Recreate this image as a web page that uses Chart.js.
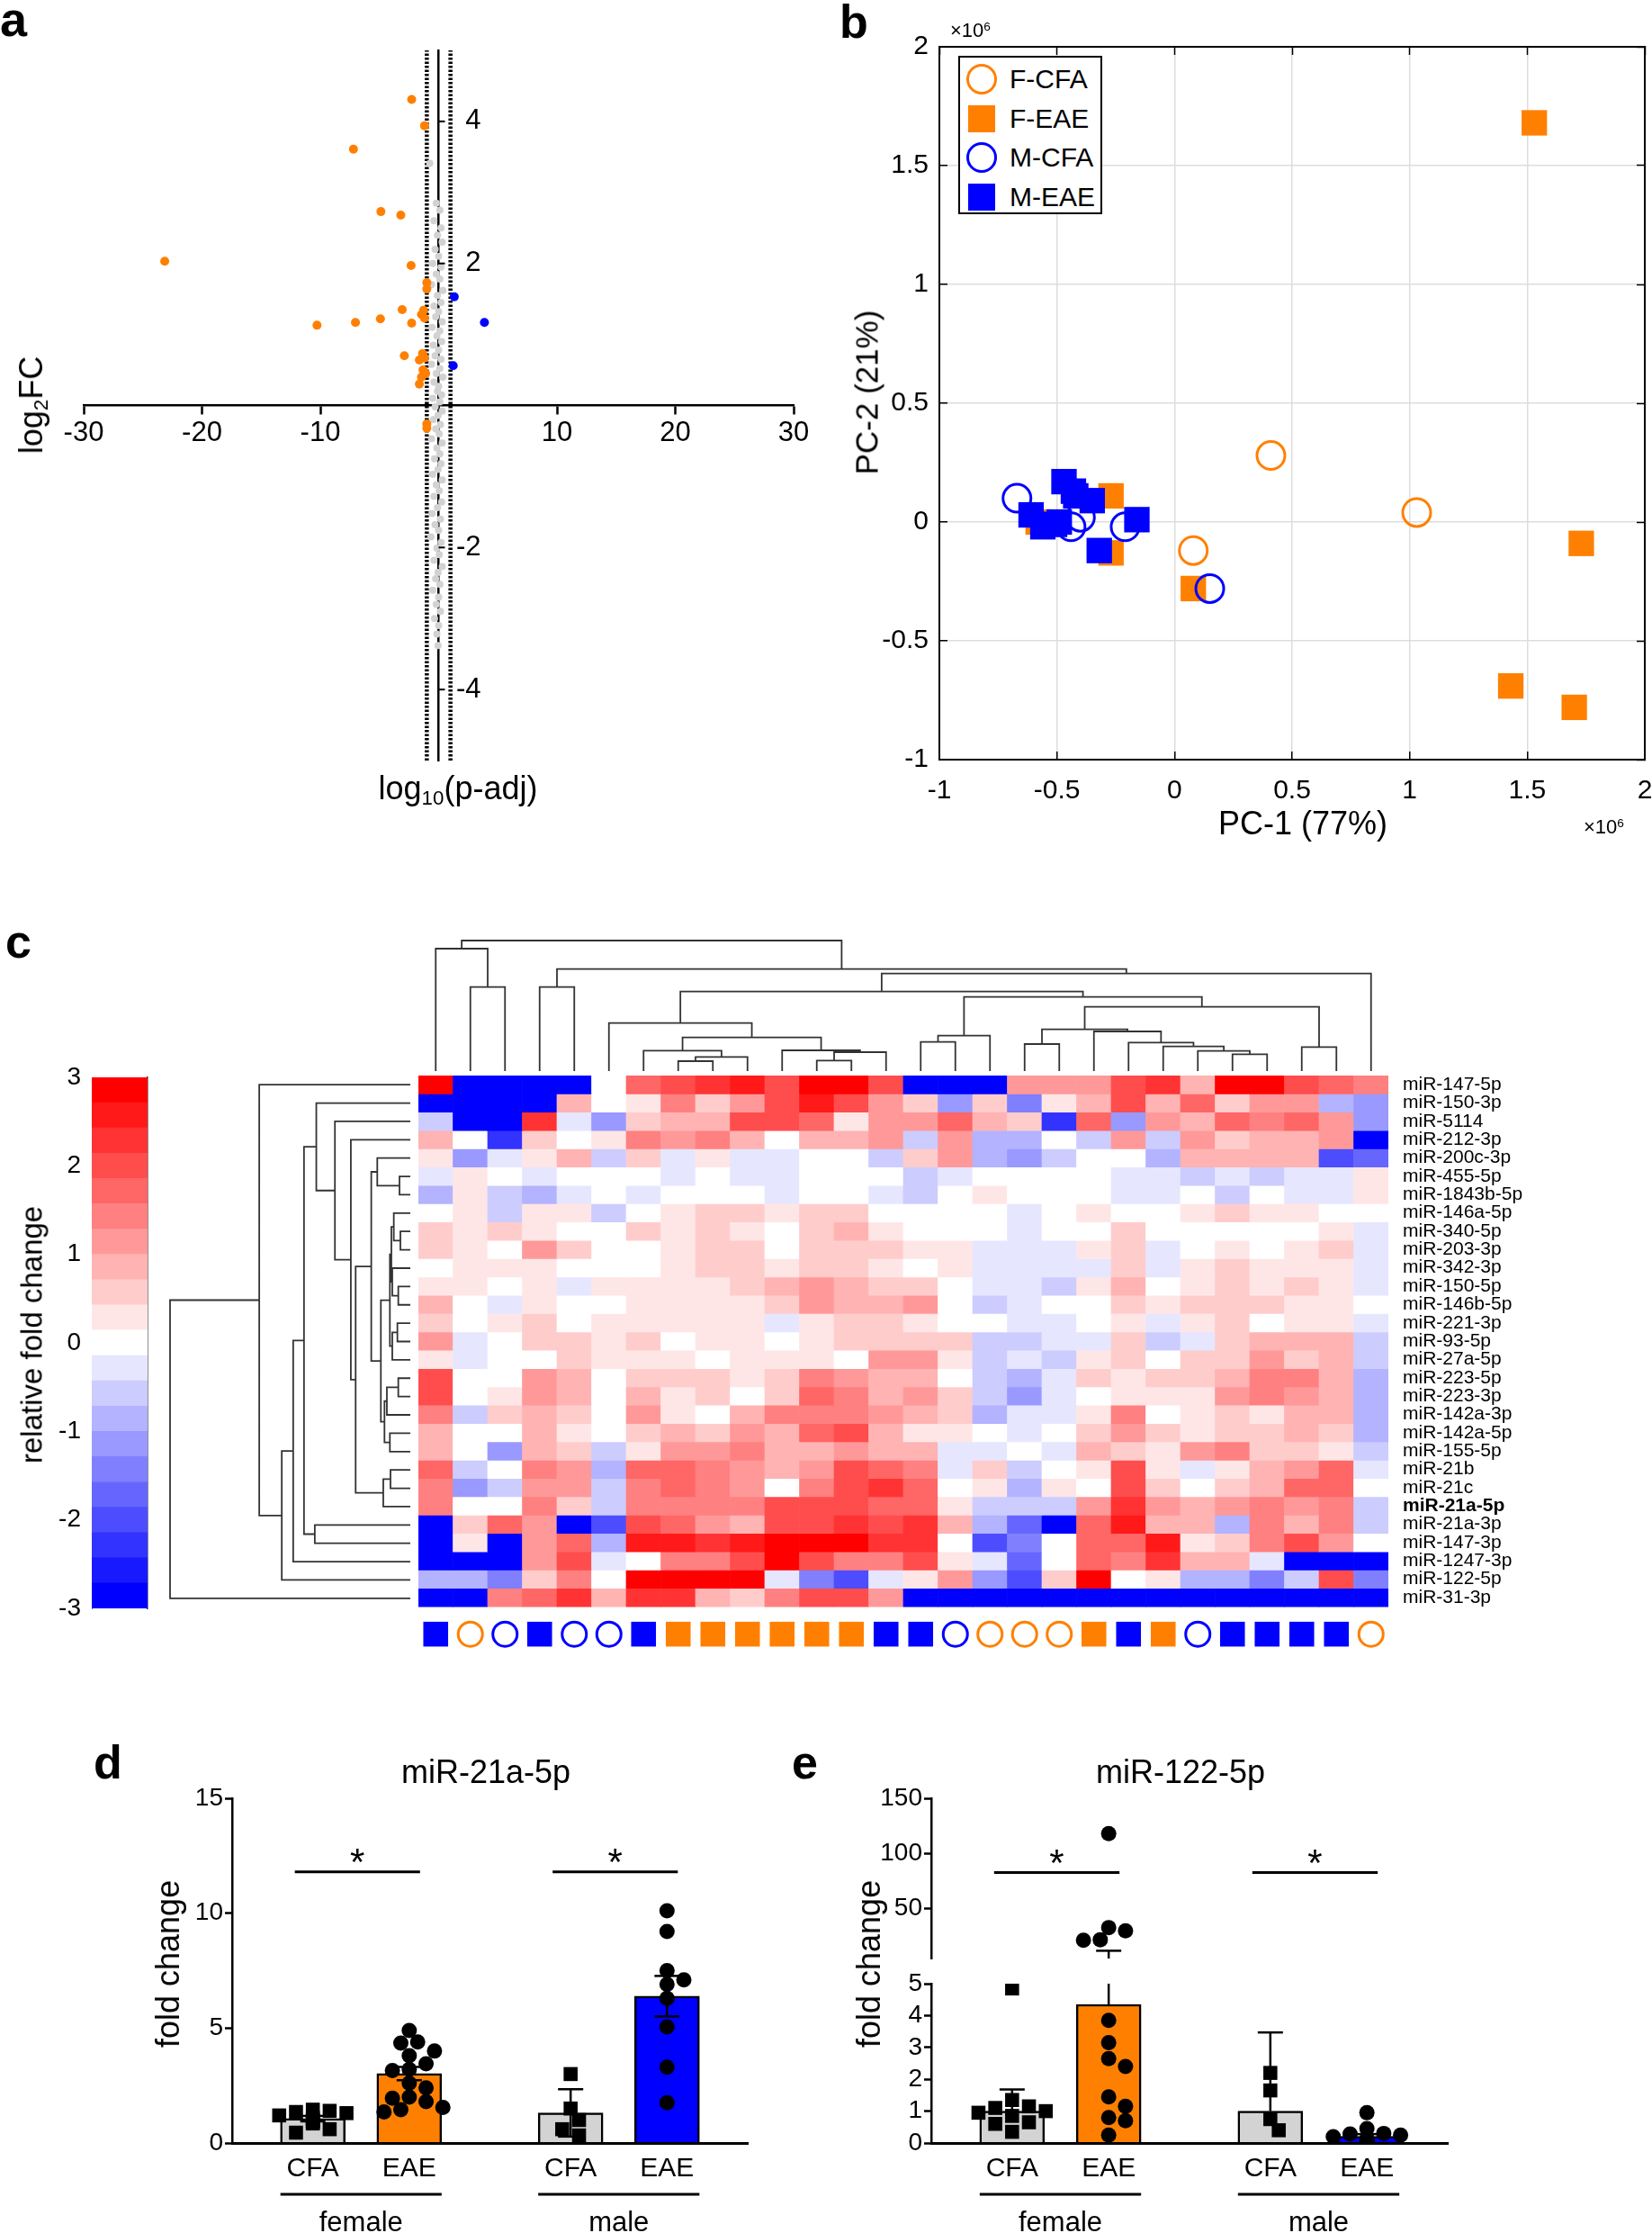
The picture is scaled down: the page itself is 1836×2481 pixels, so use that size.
<!DOCTYPE html>
<html>
<head>
<meta charset="utf-8">
<title>miRNA figure</title>
<script src="https://cdn.jsdelivr.net/npm/chart.js"></script>
<style>
  html, body { margin: 0; padding: 0; background: #fff; }
  body { position: relative; width: 1836px; height: 2481px; overflow: hidden;
         font-family: "Liberation Sans", Arial, Helvetica, sans-serif; color: #000; }
  canvas { position: absolute; }
  .t { position: absolute; white-space: nowrap; line-height: 1; z-index: 2; }
  .b { font-weight: bold; }
  .c { transform: translateX(-50%); }
  .r { transform: translate(-50%, -50%) rotate(-90deg); }
  sub { font-size: 0.62em; vertical-align: -0.28em; line-height: 0; }
  sup { font-size: 0.62em; vertical-align: 0.5em; line-height: 0; }
  #legB { position: absolute; left: 1065px; top: 62px; width: 156px; height: 172px;
          border: 2px solid #000; background: #fff; z-index: 3; }
  #legB div { position: absolute; }
</style>
</head>
<body>

<!-- panel letters -->
<div class="t b" style="left:0;top:-6px;font-size:54px">a</div>
<div class="t b" style="left:933px;top:-2px;font-size:52px">b</div>
<div class="t b" style="left:6px;top:1020px;font-size:52px">c</div>
<div class="t b" style="left:104px;top:1932px;font-size:52px">d</div>
<div class="t b" style="left:880px;top:1932px;font-size:52px">e</div>

<!-- a -->
<div class="t r" style="left:35px;top:450px;font-size:36px">log<sub>2</sub>FC</div>
<div class="t c" style="left:509px;top:858px;font-size:36px">log<sub>10</sub>(p-adj)</div>

<!-- b -->
<div class="t" style="left:1056px;top:23px;font-size:22px">&times;10<sup>6</sup></div>
<div class="t" style="left:1760px;top:908px;font-size:22px">&times;10<sup>6</sup></div>
<div class="t c" style="left:1448px;top:897px;font-size:36px">PC-1 (77%)</div>
<div class="t r" style="left:963px;top:436px;font-size:35px">PC-2 (21%)</div>
<div id="legB"></div>

<!-- c -->
<div class="t r" style="left:35px;top:1483px;font-size:33px">relative fold change</div>

<!-- d / e -->
<div class="t c" style="left:540px;top:1951px;font-size:36px">miR-21a-5p</div>
<div class="t c" style="left:1312px;top:1951px;font-size:36px">miR-122-5p</div>
<div class="t r" style="left:187px;top:2182px;font-size:36px">fold change</div>
<div class="t r" style="left:966px;top:2182px;font-size:36px">fold change</div>

<script>
// ---------------- a: volcano plot ----------------
const volcanoOrange = [[-2.28,4.31],[-1.19,3.94],[-7.2,3.61],[-4.88,2.73],[-3.2,2.68],[-23.15,2.03],
  [-2.33,1.97],[-1.0,1.73],[-1.0,1.64],[-3.08,1.35],[-1.27,1.34],[-1.45,1.28],[-1.19,1.23],[-4.92,1.22],
  [-7.03,1.17],[-10.28,1.13],[-2.28,1.16],[-2.9,0.70],[-1.36,0.73],[-1.63,0.64],[-1.19,0.67],[-1.32,0.50],
  [-1.1,0.45],[-1.45,0.40],[-1.63,0.30],[-1.0,-0.26],[-1.0,-0.32]];
const volcanoBlue = [[1.32,1.53],[3.87,1.17],[1.23,0.56]];
const volcanoGray = [[-0.75,3.41],[-0.2,2.85],[0.1,2.75],[-0.4,2.6],[0.2,2.5],[-0.1,2.4],[0.3,2.3],[-0.3,2.2],
  [0.0,2.1],[-0.5,2.0],[0.2,1.95],[-0.2,1.85],[0.1,1.78],[-0.6,1.7],[0.35,1.62],[-0.1,1.55],[0.2,1.45],
  [-0.4,1.4],[0.0,1.32],[-0.25,1.25],[0.3,1.18],[-0.55,1.1],[0.1,1.05],[-0.15,0.98],[0.25,0.9],[-0.45,0.85],
  [0.0,0.78],[-0.3,0.7],[0.2,0.65],[-0.6,0.58],[0.1,0.52],[-0.2,0.45],[0.35,0.4],[-0.4,0.33],[0.0,0.27],
  [-0.1,0.2],[0.25,0.15],[-0.5,0.1],[0.1,0.05],[-0.3,-0.02],[0.3,-0.08],[-0.05,-0.14],[-0.45,-0.2],
  [0.15,-0.27],[-0.25,-0.33],[0.05,-0.4],[-0.6,-0.47],[0.3,-0.53],[-0.15,-0.6],[0.1,-0.68],[-0.35,-0.75],
  [0.2,-0.82],[-0.05,-0.9],[-0.5,-0.97],[0.3,-1.05],[-0.2,-1.12],[0.05,-1.2],[-0.4,-1.28],[0.25,-1.36],
  [-0.1,-1.44],[-0.55,-1.52],[0.15,-1.6],[-0.3,-1.68],[0.0,-1.76],[-0.65,-1.85],[0.2,-1.93],[-0.15,-2.01],
  [0.05,-2.1],[-0.4,-2.18],[0.3,-2.27],[-0.05,-2.35],[-0.25,-2.44],[0.1,-2.52],[-0.5,-2.6],[0.0,-2.7],
  [-0.2,-2.8],[0.15,-2.9],[-0.35,-3.0],[0.0,-3.1],[-0.15,-3.22],[-0.05,-3.38]];
const padjCut = 1;
const volcanoYTicks = [-4, -2, 2, 4];

// ---------------- b: PCA (x10^6) ----------------
const pcaFCFA = [[0.41,0.28],[1.03,0.04],[0.08,-0.12]];
const pcaFEAE = [[1.53,1.68],[1.73,-0.09],[1.43,-0.69],[1.70,-0.78],[0.08,-0.28],[-0.27,0.11],[-0.27,-0.13],[-0.58,0.0]];
const pcaMCFA = [[-0.67,0.10],[-0.21,-0.02],[0.15,-0.28],[-0.44,-0.02],[-0.40,0.02]];
const pcaMEAE = [[-0.47,0.17],[-0.43,0.13],[-0.35,0.09],[-0.61,0.03],[-0.16,0.01],[-0.49,0.0],
  [-0.56,-0.02],[-0.32,-0.12],[-0.42,0.11],[-0.51,-0.01]];

// ---------------- c: heatmap ----------------
const mirNames = ['miR-147-5p','miR-150-3p','miR-5114','miR-212-3p','miR-200c-3p','miR-455-5p','miR-1843b-5p',
  'miR-146a-5p','miR-340-5p','miR-203-3p','miR-342-3p','miR-150-5p','miR-146b-5p','miR-221-3p','miR-93-5p',
  'miR-27a-5p','miR-223-5p','miR-223-3p','miR-142a-3p','miR-142a-5p','miR-155-5p','miR-21b','miR-21c',
  'miR-21a-5p','miR-21a-3p','miR-147-3p','miR-1247-3p','miR-122-5p','miR-31-3p'];
const highlightMir = 'miR-21a-5p';
const sampleGroups = ['M-EAE','F-CFA','M-CFA','M-EAE','M-CFA','M-CFA','M-EAE','F-EAE','F-EAE','F-EAE',
  'F-EAE','F-EAE','F-EAE','M-EAE','M-EAE','M-CFA','F-CFA','F-CFA','F-CFA','F-EAE','M-EAE','F-EAE','M-CFA',
  'M-EAE','M-EAE','M-EAE','M-EAE','F-CFA'];
const heatValues = [
  [3,-3,-3,-3,-3,0,1.8,2.1,2.4,2.7,2.1,3,3,2.1,-3,-3,-3,1.2,1.2,1.2,2.1,2.4,0.9,3,3,2.1,1.8,1.5],
  [-3,-3,-3,-3,0.9,0,0.3,1.5,0.6,1.2,2.1,2.7,2.1,1.2,0.6,-1.2,0.6,-1.5,0.3,0.9,2.1,0.9,1.8,0.6,1.2,1.2,-0.9,-1.2],
  [-0.6,-3,-3,2.4,-0.3,-1.2,0.6,0.9,0.9,2.1,2.1,1.8,0.3,1.2,1.2,1.8,0.9,0.6,-2.4,1.8,-1.2,1.2,0.9,1.8,1.5,1.8,1.2,-1.2],
  [0.9,0,-2.4,0.6,0,0.3,1.5,1.2,1.5,0.9,0,0.9,0.9,1.2,-0.6,1.2,-0.9,-0.9,0,-0.6,1.2,-0.6,1.2,0.6,0.9,0.9,1.2,-3],
  [0.3,-1.2,-0.3,0.3,0.9,-0.6,0.6,-0.3,0.3,-0.3,-0.3,0,0,-0.6,0.6,1.2,-0.9,-1.2,-0.6,0,0,-0.9,0.9,0.9,0.9,0.9,-2.1,-1.8],
  [-0.3,0.3,0,-0.3,0,0,0,-0.3,0,-0.3,-0.3,0,0,0,-0.6,-0.3,0,0,0,0,-0.3,-0.3,-0.6,-0.3,-0.6,-0.3,-0.3,0.3],
  [-0.9,0.3,-0.6,-0.9,-0.3,0,-0.3,0,0,0,-0.3,0,0,-0.3,-0.6,0,0.3,0,0,0,-0.3,-0.3,0,-0.6,0,-0.3,-0.3,0.3],
  [0,0.3,-0.6,0.3,0.3,-0.6,0,0.3,0.6,0.6,0.3,0.6,0.6,0,0,0,0,-0.3,0,0.3,0,0,0.3,0.6,0.3,0.3,0,0],
  [0.6,0.3,0.6,0.3,0,0,0.6,0.3,0.6,0.3,0,0.6,0.9,0.3,0,0,0,-0.3,0,0,0.6,0,0,0,0,0,0.3,-0.3],
  [0.6,0.3,0,1.2,0.6,0,0,0.3,0.6,0.6,0,0.6,0.6,0.6,0.3,0.3,-0.3,-0.3,-0.3,0.3,0.6,-0.3,0,0.3,0,0.3,0.6,-0.3],
  [0,0.3,0.3,0.3,0,0,0,0.3,0.6,0.6,0.3,0.6,0.6,0.3,0,0.3,-0.3,-0.3,-0.3,-0.3,0.6,-0.3,0.3,0.6,0.3,0.3,0.3,-0.3],
  [0.3,0.3,0,0.3,-0.3,0.3,0.3,0.3,0.3,0.6,0.9,1.2,0.9,0.6,0.6,0,-0.3,-0.3,-0.6,0.3,0.9,0,0.3,0.6,0.3,0.6,0.3,-0.3],
  [0.9,0,-0.3,0.3,0,0,0.3,0.3,0.3,0.3,0.6,1.2,0.9,0.9,1.2,0,-0.6,-0.3,0,0,0.6,0.3,0.6,0.6,0.6,0.3,0.3,0],
  [0.6,0,0.3,0.6,0,0.3,0.3,0.3,0.3,0.3,-0.3,0.3,0.6,0.6,0.3,0,0,-0.3,-0.3,0,0.3,-0.3,0.3,0.6,0,0.3,0.3,-0.3],
  [1.2,-0.3,0,0.6,0.6,0.3,0.6,0,0.3,0.3,0,0.3,0.6,0.6,0.6,0.6,-0.6,-0.6,-0.3,-0.3,0.6,-0.6,-0.3,0.6,0.9,0.9,0.9,-0.6],
  [0.3,-0.3,0,0,0.6,0.3,0.3,0.3,0,0.3,0.3,0.3,0,1.2,1.2,0.3,-0.6,-0.3,-0.6,0.3,0.6,0,0.6,0.6,1.2,0.6,0.9,-0.6],
  [2.1,0,0,1.2,0.9,0,0.6,0.6,0.6,0.3,0.6,1.5,1.2,0.9,0.9,0,-0.6,-0.9,-0.3,0.6,0.3,0.6,0.6,0.9,1.5,1.5,0.9,-0.9],
  [2.1,0,0.3,1.2,0.9,0,0.9,0.3,0.6,0,0.6,1.8,1.5,0.9,1.2,0.6,-0.6,-1.2,-0.3,0,0.3,0.3,0.3,1.2,1.5,1.2,0.9,-0.9],
  [1.5,-0.6,0.6,0.9,0.6,0,1.2,0.3,0,0.9,1.5,1.5,1.5,1.2,0.9,0.6,-0.9,-0.3,-0.3,0.3,1.5,0,0.3,0.6,0.3,0.9,0.9,-0.9],
  [0.9,0,0,0.9,0.3,0,0.6,0.9,0.6,1.2,0.9,1.8,2.1,0.9,0.3,0.3,0,-0.3,0,0.6,1.2,0.6,0.3,0.6,0.6,0.9,0.6,-0.9],
  [0.9,0,-1.2,0.9,0.6,-0.6,0.3,1.2,1.2,1.5,0.9,0.9,1.2,0.9,0.9,-0.3,-0.3,0,-0.3,0.9,0.6,0.3,1.2,1.5,0.6,0.6,0.3,-0.6],
  [1.8,-0.6,0,1.5,1.2,-0.9,1.8,1.8,1.5,1.2,0.9,1.2,2.1,1.8,1.5,-0.3,0.6,-0.6,0,0.3,2.1,0.3,-0.3,0.3,0.9,1.2,1.8,-0.3],
  [1.5,-1.2,-0.6,1.2,1.2,-0.6,1.5,1.8,1.5,1.2,0,1.5,2.1,2.4,1.8,0,0.3,-0.9,0.3,0,2.1,0.6,0,0.6,0.9,1.8,1.8,0],
  [1.5,0,0,1.5,0.6,-0.6,1.5,1.5,1.5,1.5,2.1,2.1,2.1,1.8,1.8,0.3,-0.6,-0.6,-0.6,1.2,2.4,1.2,0.9,1.2,1.5,1.2,1.5,-0.6],
  [-3,0.6,1.8,1.2,-3,-2.1,2.1,1.8,1.2,0.9,2.1,2.1,2.4,2.1,2.4,0.9,-0.9,-1.8,-3,1.8,2.7,0.9,0.9,-0.9,1.5,0.9,1.5,-0.6],
  [-3,0.3,-3,1.2,1.8,-0.9,2.7,2.7,2.4,2.7,3,3,3,2.4,2.4,0,-2.1,-1.5,0,1.8,1.8,2.7,0.3,0.6,1.5,2.1,1.2,0],
  [-3,-3,-3,1.2,2.1,-0.3,0,1.5,1.5,2.1,3,2.1,1.5,1.5,2.1,0.3,-0.3,-1.8,0,1.8,1.5,2.4,0.9,0.9,-0.3,-3,-3,-3],
  [-0.9,-0.9,-1.5,0.6,1.5,0,3,3,3,3,-0.3,-1.5,-2.1,-0.3,0.3,1.2,-1.2,-2.1,0.6,3,0,0.3,-0.9,-0.9,-1.5,-0.6,2.1,-1.5],
  [-3,-3,1.5,1.8,2.4,0.9,2.4,2.4,0.9,0.6,1.5,2.1,2.1,1.2,-3,-3,-3,-3,-3,-3,-3,-3,-3,-3,-3,-3,-3,-3]
];
// dendrograms: [childA, childB, height]; leaves 0..n-1, merged clusters n, n+1, ...
const colLinkage = [[1,2,280],[0,28,408],[3,4,280],[7,8,33],[31,9,47],[6,32,68],[11,12,35],[34,13,63],
  [10,35,69],[33,36,112],[5,37,160],[14,15,97],[39,16,118],[17,18,90],[23,24,56],[22,42,67],[21,43,82],
  [20,44,95],[19,45,132],[41,46,139],[25,26,80],[47,48,214],[40,49,247],[38,50,265],[51,27,325],[30,52,340],
  [29,53,435]];
const rowLinkage = [[5,6,36],[4,29,110],[8,9,33],[7,31,55],[11,12,40],[10,33,60],[13,14,43],[35,15,60],
  [32,34,63],[37,36,68],[16,17,40],[39,18,78],[19,20,68],[40,41,86],[38,42,98],[30,43,130],[21,22,66],
  [45,23,90],[44,46,182],[3,47,198],[2,48,251],[1,49,313],[24,25,318],[50,51,354],[52,26,390],[53,27,428],
  [0,54,503],[55,28,800]];

// ---------------- d / e: qPCR ----------------
const sexLabels = ['female', 'male'];
const treatLabels = ['CFA', 'EAE'];
const mir21CfaMean = [1.06, 1.31];
const mir21EaeMean = [3.02, 6.39];
const mir21CfaErr = [0.12, 1.03];
const mir21EaeErr = [0.29, 0.88];
const mir21FemaleCfa = [1.45,1.4,1.35,1.3,1.2,1.1,1.0,0.95,0.9,0.85,0.6,0.45];
const mir21FemaleEae = [4.9,4.4,4.35,4.0,3.8,3.45,3.2,3.15,2.6,2.4,2.0,1.95,1.8,1.55,1.45,1.35];
const mir21MaleCfa = [3.0,1.5,1.0,0.6,0.33];
const mir21MaleEae = [10.1,9.2,7.5,7.1,6.9,6.3,5.05,3.3,1.75];
const mir122CfaMean = [1.0, 1.0];
const mir122EaeMean = [4.35, 0.21];
const mir122CfaErr = [0.68, 2.47];
const mir122EaeErr = [7.65, 0.07];
const mir122FemaleCfa = [4.85,1.35,1.15,1.1,1.0,0.95,0.85,0.65,0.6,0.35];
const mir122FemaleEae = [118,33,30,22,21.5,3.85,3.15,2.65,2.4,1.45,1.15,0.8,0.7,0.25];
const mir122MaleCfa = [2.2,1.65,0.75,0.4];
const mir122MaleEae = [0.95,0.45,0.3,0.28,0.25,0.2,0.15,0.1,0.08,0.05];

// ================= drawing =================
const ORANGE = '#FF8000', BLUE = '#0000FF';
const FAMILY = '"Liberation Sans", Arial, Helvetica, sans-serif';
Chart.defaults.font.family = FAMILY;
Chart.defaults.color = '#000';
Chart.defaults.animation = false;
Chart.defaults.responsive = false;
Chart.defaults.layout.autoPadding = false;
Chart.defaults.plugins.legend.display = false;
Chart.defaults.plugins.tooltip.enabled = false;

function mk(id, left, top, w, h) {
  const c = document.createElement('canvas');
  c.id = id; c.width = w; c.height = h;
  c.style.left = left + 'px'; c.style.top = top + 'px';
  c.style.width = w + 'px'; c.style.height = h + 'px';
  document.body.appendChild(c);
  return c;
}
const fixW = w => ax => { ax.width = w; };
const fixH = h => ax => { ax.height = h; };
const xy = arr => arr.map(([x, y]) => ({ x, y }));
const str = v => String(v);

// ---- a ----
const cutLine = x => ({ data: [{ x, y: -5 }, { x, y: 5 }], showLine: true, pointRadius: 0,
  borderColor: '#000', borderWidth: 4.5, borderDash: [2.5, 2], order: 2 });
const volcanoYLabels = {
  id: 'volcanoYLabels',
  afterDraw(chart) {
    const { ctx, scales: { x, y } } = chart;
    const x0 = x.getPixelForValue(0);
    ctx.save();
    ctx.font = '31px ' + FAMILY; ctx.textAlign = 'right'; ctx.textBaseline = 'middle';
    ctx.strokeStyle = '#000'; ctx.lineWidth = 2;
    volcanoYTicks.forEach(v => {
      const py = y.getPixelForValue(v);
      ctx.fillText(str(v), x0 + 47, py);
      ctx.beginPath(); ctx.moveTo(x0, py); ctx.lineTo(x0 + 7, py); ctx.stroke();
    });
    ctx.restore();
  }
};
new Chart(mk('chartA', 0, 0, 930, 900), {
  type: 'scatter',
  data: { datasets: [
    { label: 'EAE up', data: xy(volcanoOrange), backgroundColor: ORANGE, pointRadius: 5, borderWidth: 0, order: 0 },
    { label: 'EAE down', data: xy(volcanoBlue), backgroundColor: BLUE, pointRadius: 5, borderWidth: 0, order: 0 },
    { label: 'n.s.', data: xy(volcanoGray), backgroundColor: '#D2D2D2', pointRadius: 4, borderWidth: 0, order: 1 },
    cutLine(-padjCut), cutLine(padjCut)
  ] },
  options: {
    layout: { padding: { left: 93, right: 48, top: 56, bottom: 55 } },
    scales: {
      x: { type: 'linear', position: { y: 0 }, min: -30, max: 30,
           ticks: { stepSize: 10, font: { size: 31 }, padding: 3, callback: v => v === 0 ? '' : str(v) },
           grid: { drawOnChartArea: false, tickLength: 9, tickColor: '#000', tickWidth: 2.5 },
           border: { color: '#000', width: 2.5 } },
      y: { type: 'linear', position: { x: 0 }, min: -5, max: 5,
           ticks: { display: false },
           grid: { display: false, drawTicks: false },
           border: { color: '#000', width: 2.5 } }
    }
  },
  plugins: [volcanoYLabels]
});

// ---- b ----
const pcaSeries = [
  { label: 'F-CFA', pts: pcaFCFA, color: ORANGE, shape: 'circle', order: 2 },
  { label: 'F-EAE', pts: pcaFEAE, color: ORANGE, shape: 'rect', order: 4 },
  { label: 'M-CFA', pts: pcaMCFA, color: BLUE, shape: 'circle', order: 1 },
  { label: 'M-EAE', pts: pcaMEAE, color: BLUE, shape: 'rect', order: 3 }
];
const pcaGrid = { color: '#DDDDDD', lineWidth: 1.5, tickLength: -9, tickColor: '#000', tickWidth: 1.5 };
const pcaEdge = { drawOnChartArea: false, tickLength: -9, tickColor: '#000', tickWidth: 1.5 };
const pcaRange = { type: 'linear', min: -1, max: 2 };
new Chart(mk('chartB', 900, 0, 1000, 950), {
  type: 'scatter',
  data: { datasets: pcaSeries.map(s => ({
    label: s.label, data: xy(s.pts), pointStyle: s.shape,
    pointRadius: s.shape === 'rect' ? 20 : 15.5,
    backgroundColor: s.shape === 'rect' ? s.color : 'rgba(0,0,0,0)',
    borderColor: s.color, borderWidth: s.shape === 'rect' ? 0 : 3, order: s.order })) },
  options: {
    layout: { padding: { left: 74, right: 72, top: 52, bottom: 56 } },
    scales: {
      x: { ...pcaRange, ticks: { stepSize: 0.5, font: { size: 30 }, padding: 26, callback: str },
           grid: pcaGrid, border: { color: '#000', width: 2 }, afterFit: fixH(50) },
      y: { ...pcaRange, ticks: { stepSize: 0.5, font: { size: 30 }, padding: 21, callback: str },
           grid: pcaGrid, border: { color: '#000', width: 2 }, afterFit: fixW(70) },
      x2: { ...pcaRange, position: 'top', ticks: { stepSize: 0.5, display: false },
            grid: pcaEdge, border: { color: '#000', width: 2 }, afterFit: fixH(0) },
      y2: { ...pcaRange, position: 'right', ticks: { stepSize: 0.5, display: false },
            grid: pcaEdge, border: { color: '#000', width: 2 }, afterFit: fixW(0) }
    }
  }
});
// legend box for b
const legB = document.getElementById('legB');
pcaSeries.forEach((s, i) => {
  const cy = 24 + i * 43.5;
  const m = document.createElement('div');
  if (s.shape === 'rect') {
    m.style.cssText = `left:9px;top:${cy - 15}px;width:30px;height:30px;background:${s.color}`;
  } else {
    m.style.cssText = `left:7px;top:${cy - 17}px;width:28px;height:28px;border:3px solid ${s.color};border-radius:50%`;
  }
  legB.appendChild(m);
  const t = document.createElement('div');
  t.textContent = s.label;
  t.style.cssText = `left:55px;top:${cy - 15}px;font-size:30px;line-height:1;white-space:nowrap`;
  legB.appendChild(t);
});

// ---- c: colour map ----
const STEP = 6 / 21;
const levelOf = v => Math.max(0, Math.min(20, Math.floor((v + 3) / STEP))) - 10;
function levelColor(k) {
  const c = Math.round(255 * (1 - Math.abs(k) / 10));
  return k >= 0 ? `rgb(255,${c},${c})` : `rgb(${c},${c},255)`;
}
const heatColor = v => levelColor(levelOf(v));

// colour bar
const barSteps = [];
for (let k = 0; k < 21; k++) barSteps.push({ lo: -3 + k * STEP, hi: -3 + (k + 1) * STEP, color: levelColor(k - 10) });
new Chart(mk('chartBar', 0, 1150, 200, 680), {
  type: 'bar',
  data: { labels: [''], datasets: barSteps.map(s => ({ data: [[s.lo, s.hi]], backgroundColor: s.color,
    grouped: false, barPercentage: 1, categoryPercentage: 1, borderWidth: 0 })) },
  options: {
    layout: { padding: { left: 42, right: 36, top: 47, bottom: 43 } },
    scales: {
      x: { display: false },
      y: { min: -3, max: 3, ticks: { stepSize: 1, font: { size: 28 }, padding: 12, callback: str },
           grid: { drawOnChartArea: false, drawTicks: false }, border: { color: '#777', width: 1 }, afterFit: fixW(60) },
      y2: { position: 'right', min: -3, max: 3, ticks: { display: false },
            grid: { display: false, drawTicks: false }, border: { color: '#222', width: 1.5 }, afterFit: fixW(0) }
    }
  }
});

// dendrograms
function dendroLines(linkage, nLeaves, asXY) {
  const pos = [], hgt = [];
  for (let i = 0; i < nLeaves; i++) { pos.push(i + 0.5); hgt.push(0); }
  const out = [];
  const pt = (p, h) => asXY ? { x: p, y: h } : { x: h, y: p };
  linkage.forEach(([a, b, h]) => {
    out.push(pt(pos[a], hgt[a]), pt(pos[a], h), pt(pos[b], h), pt(pos[b], hgt[b]), { x: null, y: null });
    pos.push((pos[a] + pos[b]) / 2);
    hgt.push(h);
  });
  return out;
}
const dendroStyle = { showLine: true, spanGaps: false, pointRadius: 0, borderColor: '#333', borderWidth: 1.8, clip: 4 };
new Chart(mk('chartRowTree', 170, 1180, 300, 620), {
  type: 'scatter',
  data: { datasets: [{ data: dendroLines(rowLinkage, mirNames.length, false), ...dendroStyle }] },
  options: {
    layout: { padding: { left: 19, right: 14, top: 15, bottom: 14 } },
    scales: { x: { display: false, min: 0, max: 800, reverse: true },
              y: { display: false, min: 0, max: mirNames.length, reverse: true } }
  }
});
new Chart(mk('chartColTree', 455, 1030, 1100, 170), {
  type: 'scatter',
  data: { datasets: [{ data: dendroLines(colLinkage, sampleGroups.length, true), ...dendroStyle }] },
  options: {
    layout: { padding: { left: 10, right: 12, top: 15, bottom: 10 } },
    scales: { x: { display: false, min: 0, max: sampleGroups.length },
              y: { display: false, min: 0, max: 435 } }
  }
});

// heatmap + sample markers
const MARKER_ROW = 30.5;
const groupMarks = { 'F-CFA': [ORANGE, 'circle'], 'F-EAE': [ORANGE, 'rect'], 'M-CFA': [BLUE, 'circle'], 'M-EAE': [BLUE, 'rect'] };
new Chart(mk('chartHeat', 465, 1165, 1238, 706), {
  type: 'bar',
  data: {
    labels: sampleGroups.map((g, i) => g + ' ' + (i + 1)),
    datasets: [
      ...heatValues.map((row, r) => ({ label: mirNames[r], data: row.map(() => [r, r + 1]),
        backgroundColor: row.map(heatColor), grouped: false, barPercentage: 1, categoryPercentage: 1,
        borderWidth: 0, order: 2 })),
      ...Object.keys(groupMarks).map(g => {
        const [col, shape] = groupMarks[g];
        return { type: 'line', label: g, data: sampleGroups.map(s => s === g ? MARKER_ROW : null),
          showLine: false, pointStyle: shape, pointRadius: shape === 'rect' ? 19.5 : 13.5,
          pointBorderWidth: shape === 'rect' ? 0 : 3, pointBorderColor: col,
          pointBackgroundColor: shape === 'rect' ? col : 'rgba(0,0,0,0)', clip: false, order: 0 };
      })
    ]
  },
  options: {
    layout: { padding: { left: 0, right: 0, top: 30, bottom: 35 } },
    scales: {
      x: { display: false },
      y: { position: 'right', min: 0, max: 31.5, reverse: true,
           afterBuildTicks: ax => { ax.ticks = mirNames.map((n, i) => ({ value: i + 0.5 })); },
           ticks: { autoSkip: false, padding: 16, callback: (v, i) => mirNames[i],
                    font: c => ({ size: 21, weight: mirNames[c.index] === highlightMir ? 'bold' : 'normal' }) },
           grid: { display: false, drawTicks: false }, border: { display: false }, afterFit: fixW(160) }
    }
  }
});

// ---- d / e ----
// x runs in "sex group" units: female = 0, male = 1; CFA/EAE bars sit either side of the group centre
const PAIR_OFFSET = 0.187;
const BAR_PX = 72;
function swarm(vals, pxY, pxX, r) {
  const placed = [], steps = [0, 1, -1, 2, -2, 3, -3, 4, -4, 5, -5];
  return vals.map(v => {
    const py = v * pxY;
    let dx = 0;
    for (const s of steps) {
      const px = s * r * 1.1;
      if (placed.every(p => Math.hypot(p.x - px, p.y - py) >= 1.8 * r)) { dx = px; break; }
    }
    placed.push({ x: dx, y: py });
    return dx / pxX;
  });
}
function barPanel(canvas, cfg) {
  const pxY = cfg.plotH / (cfg.yMax - cfg.yMin), pxX = cfg.plotW / 2;
  const slots = [[0, -1, 'rect'], [0, 1, 'circle'], [1, -1, 'rect'], [1, 1, 'circle']];
  const pointSets = slots.map(([grp, side, shape], g) => {
    const vals = cfg.points[g].filter(v => v > cfg.yMin && v <= cfg.yMax);
    const dx = swarm(vals, pxY, pxX, 8.5);
    return { type: 'scatter', data: vals.map((v, i) => ({ x: grp + side * PAIR_OFFSET + dx[i], y: v })),
      pointStyle: shape, pointRadius: shape === 'rect' ? 11 : 8.5, backgroundColor: '#000', borderWidth: 0, order: 0 };
  });
  const barSet = (d, means, color) => ({
    label: treatLabels[d], data: means.map((m, i) => ({ x: i + (d ? 1 : -1) * PAIR_OFFSET, y: m })),
    backgroundColor: color, borderColor: '#000', borderWidth: 2.5, barThickness: BAR_PX,
    grouped: false, clip: 0, order: 1 });
  const extras = {
    id: 'extras',
    afterDatasetsDraw(chart) {
      const ctx = chart.ctx, ys = chart.scales.y, xs = chart.scales.x, area = chart.chartArea;
      const bars = [chart.getDatasetMeta(0).data, chart.getDatasetMeta(1).data];
      ctx.save();
      ctx.strokeStyle = '#000'; ctx.fillStyle = '#000'; ctx.lineWidth = 2.5;
      [[cfg.cfaMean, cfg.cfaErr], [cfg.eaeMean, cfg.eaeErr]].forEach(([m, e], d) => {
        m.forEach((mean, i) => {
          const x = bars[d][i].x;
          const seg = to => {
            const lo = Math.max(Math.min(mean, to), cfg.yMin), hi = Math.min(Math.max(mean, to), cfg.yMax);
            if (hi <= lo) return;
            ctx.beginPath(); ctx.moveTo(x, ys.getPixelForValue(lo)); ctx.lineTo(x, ys.getPixelForValue(hi)); ctx.stroke();
            if (to >= cfg.yMin && to <= cfg.yMax) {
              const py = ys.getPixelForValue(to);
              ctx.beginPath(); ctx.moveTo(x - 14, py); ctx.lineTo(x + 14, py); ctx.stroke();
            }
          };
          seg(mean + e[i]);
          if (cfg.bothWays) seg(mean - e[i]);
        });
      });
      if (cfg.sig !== undefined) {
        const py = ys.getPixelForValue(cfg.sig);
        ctx.lineWidth = 3;
        ctx.font = '42px ' + FAMILY;
        ctx.textAlign = 'center'; ctx.textBaseline = 'alphabetic';
        sexLabels.forEach((s, i) => {
          const x1 = bars[0][i].x - 20, x2 = bars[1][i].x + 12;
          ctx.beginPath(); ctx.moveTo(x1, py); ctx.lineTo(x2, py); ctx.stroke();
          ctx.fillText('*', (x1 + x2) / 2, py + 3);
        });
      }
      if (cfg.showX) {
        ctx.textAlign = 'center'; ctx.textBaseline = 'middle'; ctx.lineWidth = 3;
        sexLabels.forEach((s, i) => {
          ctx.font = '30px ' + FAMILY;
          bars.forEach((b, d) => ctx.fillText(treatLabels[d], b[i].x, area.bottom + 29));
          const x1 = bars[0][i].x - bars[0][i].width / 2, x2 = bars[1][i].x + bars[1][i].width / 2;
          ctx.beginPath(); ctx.moveTo(x1, area.bottom + 57); ctx.lineTo(x2, area.bottom + 57); ctx.stroke();
          ctx.font = '31px ' + FAMILY;
          ctx.fillText(s, xs.getPixelForValue(i), area.bottom + 89);
        });
      }
      ctx.restore();
    }
  };
  return new Chart(canvas, {
    type: 'bar',
    data: {
      datasets: [
        barSet(0, cfg.cfaMean, '#D3D3D3'),
        barSet(1, cfg.eaeMean, [ORANGE, BLUE]),
        ...pointSets
      ]
    },
    options: {
      layout: { padding: cfg.padding },
      scales: {
        x: { type: 'linear', min: -0.5, max: 1.5, offset: false, display: cfg.showX,
             grid: { display: false, drawTicks: false }, ticks: { display: false },
             border: { color: '#000', width: 3, z: 1 }, afterFit: fixH(cfg.showX ? 100 : 0) },
        y: { min: cfg.yMin, max: cfg.yMax,
             afterBuildTicks: ax => { ax.ticks = cfg.yTicks.map(v => ({ value: v })); },
             ticks: { font: { size: 28 }, padding: 2, autoSkip: false, callback: str },
             grid: { drawOnChartArea: false, tickLength: 8, tickColor: '#000', tickWidth: 2.5 },
             border: { color: '#000', width: 2.5, z: 1 }, afterFit: fixW(cfg.yW) }
      }
    },
    plugins: [extras]
  });
}

barPanel(mk('chartD', 100, 1930, 760, 551), {
  cfaMean: mir21CfaMean, eaeMean: mir21EaeMean, cfaErr: mir21CfaErr, eaeErr: mir21EaeErr,
  points: [mir21FemaleCfa, mir21FemaleEae, mir21MaleCfa, mir21MaleEae],
  yMin: 0, yMax: 15, yTicks: [0, 5, 10, 15], plotH: 383, plotW: 573, yW: 60,
  padding: { left: 98, right: 29, top: 68, bottom: 0 }, showX: true, bothWays: true, sig: 11.8
});
const e122 = {
  cfaMean: mir122CfaMean, eaeMean: mir122EaeMean, cfaErr: mir122CfaErr, eaeErr: mir122EaeErr,
  points: [mir122FemaleCfa, mir122FemaleEae, mir122MaleCfa, mir122MaleEae], plotW: 574, yW: 55, bothWays: false
};
barPanel(mk('chartEtop', 960, 1930, 700, 266), { ...e122,
  yMin: 5, yMax: 150, yTicks: [50, 100, 150], plotH: 178,
  padding: { left: 20, right: 51, top: 68, bottom: 20 }, showX: false, sig: 82.7 });
barPanel(mk('chartEbot', 960, 2182, 700, 299), { ...e122,
  yMin: 0, yMax: 5, yTicks: [0, 1, 2, 3, 4, 5], plotH: 177,
  padding: { left: 20, right: 51, top: 22, bottom: 0 }, showX: true });
</script>
</body>
</html>
